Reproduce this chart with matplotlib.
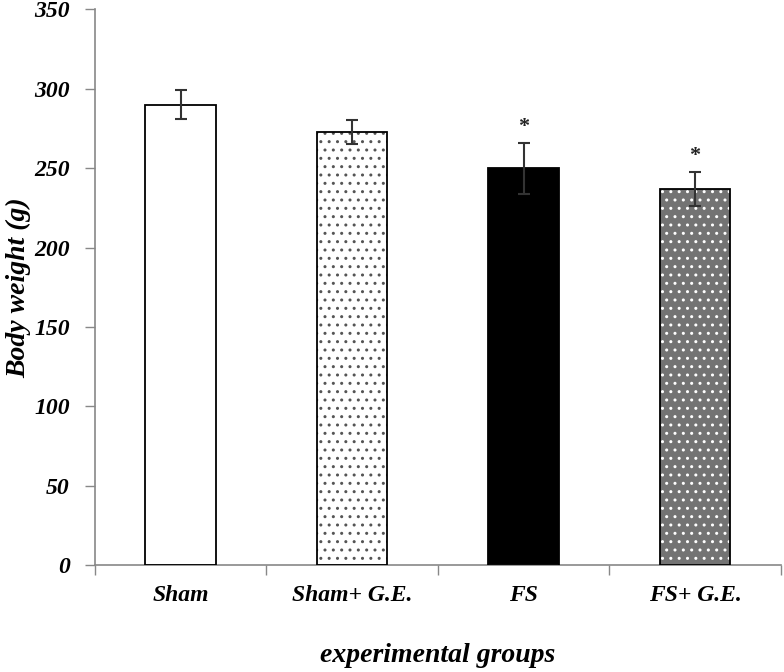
import numpy as np
import matplotlib
matplotlib.use('Agg')
import matplotlib.pyplot as plt

groups = ['Sham', 'Sham+ G.E.', 'FS', 'FS+ G.E.']
weights = [290, 273, 250, 237]
errors = [9, 7.5, 16, 10.5]
significant = [False, False, True, True]
yticks = [0, 50, 100, 150, 200, 250, 300, 350]

faces = ['white', 'white', 'black', '#737373']
hatches = [None, '..', None, '..']
hatch_colors = ['black', '#555555', 'black', 'white']

plt.rcParams['font.family'] = ['Liberation Serif', 'DejaVu Serif']
plt.rcParams['hatch.linewidth'] = 1.0

fig = plt.figure(figsize=(7.84, 6.72), dpi=100)
ax = fig.add_axes([0.121, 0.159, 0.875, 0.827])

x = np.arange(len(groups))
width = 0.41

for i in range(len(groups)):
    # fill + hatch (hatch colour comes from edgecolor)
    ax.bar(x[i], weights[i], width, color=faces[i], hatch=hatches[i],
           edgecolor=hatch_colors[i], linewidth=0, zorder=2)
    # outline
    ax.bar(x[i], weights[i], width, fill=False, edgecolor='black',
           linewidth=1.3, zorder=3)

ax.errorbar(x, weights, yerr=errors, fmt='none', ecolor='#333333',
            elinewidth=1.5, capsize=4.5, capthick=1.5, zorder=4)

for i in range(len(groups)):
    if significant[i]:
        ax.text(x[i], weights[i] + errors[i] + 10, '*', ha='center', va='center',
                fontsize=16, fontweight='bold', color='#222222')

ax.set_xlim(-0.5, len(groups) - 0.5)
ax.set_ylim(0, 350)
ax.set_yticks(yticks)
ax.set_yticklabels([str(v) for v in yticks], fontsize=17, fontweight='bold',
                   fontstyle='italic')
ax.set_xticks(x)
ax.set_xticklabels(groups, fontsize=17, fontweight='bold', fontstyle='italic')
ax.set_xticks(np.arange(len(groups) + 1) - 0.5, minor=True)
ax.tick_params(axis='x', which='major', length=0, pad=14)
ax.tick_params(axis='x', which='minor', length=7, color='#888888', width=1)
ax.tick_params(axis='y', length=7, color='#888888', width=1, pad=11)

for s in ['top', 'right']:
    ax.spines[s].set_visible(False)
for s in ['left', 'bottom']:
    ax.spines[s].set_color('#888888')
    ax.spines[s].set_linewidth(1.2)

ax.set_ylabel('Body weight (g)', fontsize=20, fontweight='bold', fontstyle='italic')
ax.yaxis.set_label_coords(-0.092, 0.5)
ax.set_xlabel('experimental groups', fontsize=20, fontweight='bold',
              fontstyle='italic', labelpad=27)

fig.savefig('out.png', dpi=100)
